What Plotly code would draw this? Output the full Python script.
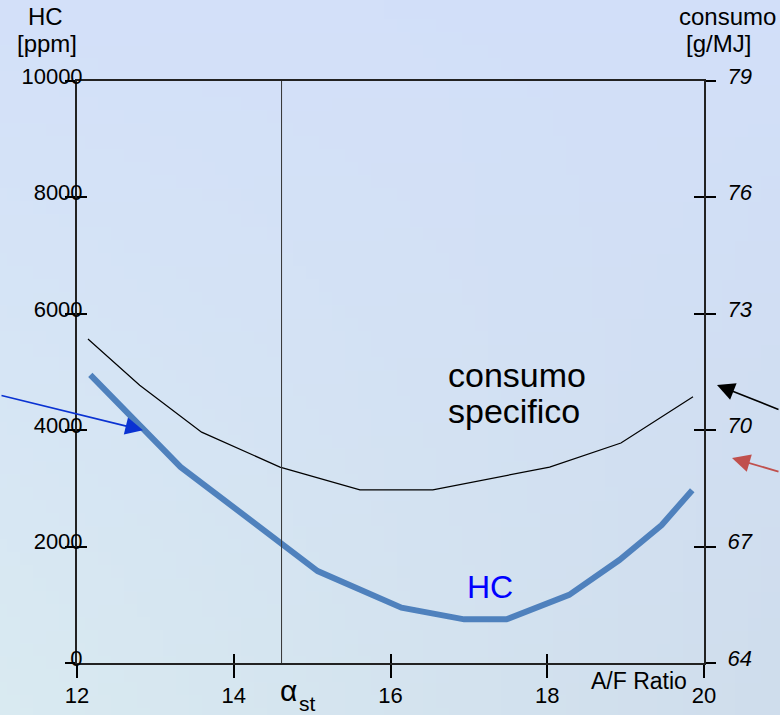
import base64, struct, zlib
import plotly.graph_objects as go

# ---------------- data ----------------
af_hc = [12.17, 13.32, 15.07, 16.14, 16.94, 17.48, 18.28, 18.92, 19.46, 19.85]
hc_ppm = [4950, 3370, 1580, 950, 750, 750, 1170, 1770, 2370, 2970]

af_cons = [12.14, 12.80, 13.59, 14.59, 15.61, 16.54, 18.03, 18.94, 19.86]
consumo = [72.35, 71.16, 69.95, 69.05, 68.46, 68.46, 69.05, 69.67, 70.86]

alpha_st = 14.61
x_ticks = [12, 14, 16, 18, 20]
hc_ticks = [0, 2000, 4000, 6000, 8000, 10000]
cons_ticks = [64, 67, 70, 73, 76, 79]

FONT = "Liberation Sans, Arial, sans-serif"

# ---------------- background gradient image ----------------
def make_png(w, h, fn):
    rows = []
    for j in range(h):
        row = bytearray(b"\x00")
        for i in range(w):
            row.extend(fn(i / (w - 1), j / (h - 1)))
        rows.append(bytes(row))
    raw = b"".join(rows)

    def chunk(t, d):
        return struct.pack(">I", len(d)) + t + d + struct.pack(">I", zlib.crc32(t + d) & 0xFFFFFFFF)

    return (b"\x89PNG\r\n\x1a\n"
            + chunk(b"IHDR", struct.pack(">IIBBBBB", w, h, 8, 2, 0, 0, 0))
            + chunk(b"IDAT", zlib.compress(raw, 9))
            + chunk(b"IEND", b""))

TL, TR = (211, 224, 249), (210, 223, 249)
BL, BR = (217, 234, 241), (207, 221, 236)

def grad(u, v):
    out = []
    for k in range(3):
        top = TL[k] * (1 - u) + TR[k] * u
        bot = BL[k] * (1 - u) + BR[k] * u
        out.append(int(round(top * (1 - v) + bot * v)))
    return bytes(out)

png = make_png(60, 55, grad)
bg_uri = "data:image/png;base64," + base64.b64encode(png).decode()

# ---------------- layout geometry ----------------
W, Hh = 780, 715
L, R, T, B = 77, 76, 81, 52
PW, PH = W - L - R, Hh - T - B

def pxx(x):
    return (x - L) / PW

def pxy(y):
    return (Hh - B - y) / PH

fig = go.Figure()

fig.add_trace(go.Scatter(x=af_cons, y=consumo, mode="lines", xaxis="x", yaxis="y2",
                         line=dict(color="black", width=1.2), showlegend=False, hoverinfo="skip"))
fig.add_trace(go.Scatter(x=af_hc, y=hc_ppm, mode="lines", xaxis="x", yaxis="y",
                         line=dict(color="#4f81bd", width=6), showlegend=False, hoverinfo="skip"))
# empty traces to activate overlay axes used for inner tick halves
fig.add_trace(go.Scatter(x=[], y=[], xaxis="x2", yaxis="y3", showlegend=False, hoverinfo="skip"))
fig.add_trace(go.Scatter(x=[], y=[], xaxis="x", yaxis="y4", showlegend=False, hoverinfo="skip"))

axis_line = dict(showline=True, linecolor="#222222", linewidth=2, showgrid=False, zeroline=False,
                 automargin=False)
tickfont = dict(family=FONT, size=22, color="black")
plain = dict(showticklabels=False, showline=False, showgrid=False, zeroline=False, automargin=False)

fig.update_layout(
    width=W, height=Hh, autosize=False,
    margin=dict(l=L, r=R, t=T, b=B, pad=0, autoexpand=False),
    paper_bgcolor="#d5e3f5",
    plot_bgcolor="white",
    showlegend=False,
    font=dict(family=FONT, color="black"),
    xaxis=dict(range=[12, 20], tickvals=x_ticks, ticktext=[str(v) for v in x_ticks],
               ticks="outside", ticklen=13, tickwidth=1.5, tickcolor="black",
               tickfont=tickfont, mirror=True, ticklabelstandoff=-1, **axis_line),
    xaxis2=dict(range=[12, 20], overlaying="x", anchor="y", side="bottom",
                tickvals=x_ticks, ticks="inside", ticklen=9, tickwidth=1.5, tickcolor="black", **plain),
    yaxis=dict(range=[0, 10000], tickvals=hc_ticks, ticktext=[str(v) for v in hc_ticks],
               ticks="outside", ticklen=10, tickwidth=1.5, tickcolor="black",
               tickfont=tickfont, ticklabelstandoff=-22, ticklabelshift=-5, **axis_line),
    yaxis2=dict(range=[64, 79], tickvals=cons_ticks, ticktext=[str(v) for v in cons_ticks],
                overlaying="y", side="right", anchor="x",
                ticks="outside", ticklen=10, tickwidth=1.5, tickcolor="black",
                tickfont=dict(family=FONT, size=22, color="black", style="italic"),
                ticklabelstandoff=7, ticklabelshift=-5, **axis_line),
    yaxis3=dict(range=[0, 10000], tickvals=hc_ticks, overlaying="y", side="left", anchor="x2",
                ticks="inside", ticklen=10, tickwidth=1.5, tickcolor="black", **plain),
    yaxis4=dict(range=[64, 79], tickvals=cons_ticks, overlaying="y", side="right", anchor="x",
                ticks="inside", ticklen=10, tickwidth=1.5, tickcolor="black", **plain),
    images=[dict(source=bg_uri, xref="paper", yref="paper",
                 x=-L / PW, y=1 + T / PH, sizex=W / PW, sizey=Hh / PH,
                 xanchor="left", yanchor="top", sizing="stretch", layer="below")],
    shapes=[dict(type="line", xref="x", yref="paper", x0=alpha_st, x1=alpha_st, y0=0, y1=1,
                 line=dict(color="#333333", width=1))],
)

ann = []
def txt(text, x, y, size, color="black", xanchor="center", style="normal"):
    ann.append(dict(text=text, xref="paper", yref="paper", x=pxx(x), y=pxy(y),
                    xanchor=xanchor, yanchor="middle", showarrow=False,
                    font=dict(family=FONT, size=size, color=color, style=style)))

txt("HC", 45, 17, 24)
txt("[ppm]", 47, 43, 24)
txt("consumo", 727, 17, 24)
txt("[g/MJ]", 718, 43, 24)
txt("consumo", 446, 375, 34, xanchor="left")
txt("specifico", 446, 411, 34, xanchor="left")
txt("HC", 490, 587, 32, color="#0000ff")
txt("A/F Ratio", 639, 681, 23)
txt("α", 288, 690, 30)
txt("st", 307, 703, 21)

# arrows
ann.append(dict(x=12.842, y=4000, xref="x", yref="y", ax=-143, ay=-35, axref="pixel", ayref="pixel",
                showarrow=True, arrowhead=2, arrowsize=2.2, arrowwidth=1.6, arrowcolor="#0a32d2", text=""))
ann.append(dict(x=pxx(717), y=pxy(385), xref="paper", yref="paper", ax=63, ay=25,
                showarrow=True, arrowhead=2, arrowsize=2.2, arrowwidth=1.6, arrowcolor="black", text=""))
ann.append(dict(x=pxx(732), y=pxy(458), xref="paper", yref="paper", ax=48, ay=14,
                showarrow=True, arrowhead=2, arrowsize=2.0, arrowwidth=1.8, arrowcolor="#c0504d", text=""))

fig.update_layout(annotations=ann)
fig.write_html("out.html")
